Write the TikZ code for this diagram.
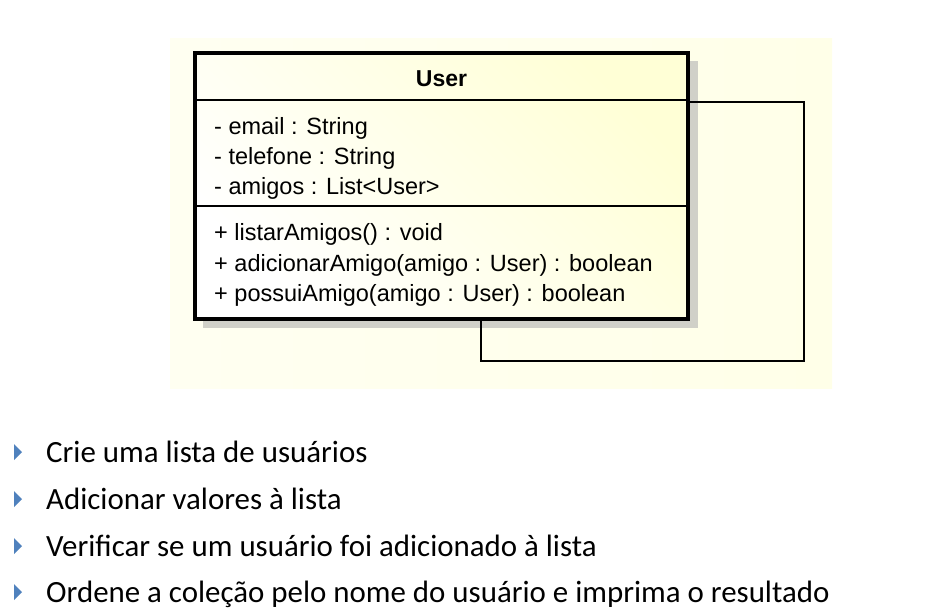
\documentclass[tikz,border=0pt]{standalone}
\usepackage{fontspec}
\setmainfont{Liberation Sans}
\newfontfamily\calfont{Carlito}
\begin{document}
\begin{tikzpicture}[x=1pt,y=-1pt,
  umltext/.style={anchor=base west,inner sep=0pt,font=\fontsize{23.5}{26}\selectfont},
  bullettext/.style={anchor=base west,inner sep=0pt,font=\calfont\fontsize{30.9}{34}\selectfont},
  loopline/.style={draw=black,line width=1.5pt}]
\definecolor{panel}{HTML}{FFFFE8}
\definecolor{boxyellow}{HTML}{FFFFCC}
\definecolor{shadowgray}{HTML}{D0D0C8}
\definecolor{bulletblue}{HTML}{4F81BD}
\useasboundingbox (0,0) rectangle (939,614);
\fill[white] (0,0) rectangle (939,614);
% panel
\shade[left color=white!40!panel,right color=panel,draw=none] (170,38) rectangle (832,388);
% shadow
\fill[shadowgray] (203,61) rectangle (698,328);
% class box
\shade[top color=white, bottom color=boxyellow!80, shading angle=135] (195,53) rectangle (688,319);
\draw[line width=3.5pt] (195,53) rectangle (688,319);
\node (box) [minimum width=493pt, minimum height=266pt, inner sep=0pt] at (441.5,186) {};
\draw[line width=1.5pt] (195,100) -- (688,100);
\draw[line width=1.5pt] (195,206) -- (688,206);
\node (title) [anchor=base,inner sep=0pt,font=\bfseries\fontsize{23}{26}\selectfont] at (441.5,86) {User};
\node (a1) [umltext] at (214,134) {- email : String};
\node (a2) [umltext] at (214,164) {- telefone : String};
\node (a3) [umltext] at (214,194) {- amigos : List<User>};
\node (m1) [umltext] at (214,240) {+ listarAmigos() : void};
\node (m2) [umltext] at (214,271) {+ adicionarAmigo(amigo : User) : boolean};
\node (m3) [umltext] at (214,301) {+ possuiAmigo(amigo : User) : boolean};
% self association
\coordinate (c1) at (804,102);
\coordinate (c2) at (804,361);
\coordinate (c3) at (481,361);
\draw[loopline] (box.east |- c1) -- (c1) -- (c2) -- (c3) -- (c3 |- box.south);
% bullets
\foreach \y in {452,499,546,592}{
  \fill[bulletblue] (14,\y-8) -- (22,\y) -- (14,\y+8) -- cycle;
}
\node (t1) [bullettext] at (46,462) {Crie uma lista de usuários};
\node (t2) [bullettext] at (46,509) {Adicionar valores à lista};
\node (t3) [bullettext] at (46,556) {Verificar se um usuário foi adicionado à lista};
\node (t4) [bullettext] at (46,602) {Ordene a coleção pelo nome do usuário e imprima o resultado};
\end{tikzpicture}
\end{document}
